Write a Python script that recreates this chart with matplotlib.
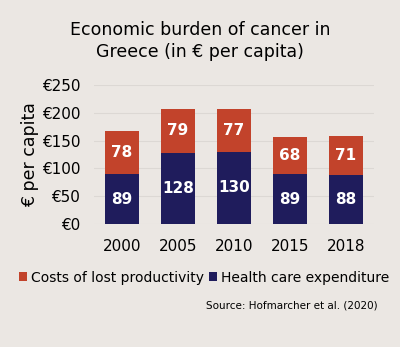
import matplotlib
matplotlib.use("Agg")
import matplotlib.pyplot as plt
import numpy as np

years = ["2000", "2005", "2010", "2015", "2018"]
health = [89, 128, 130, 89, 88]
lost = [78, 79, 77, 68, 71]
yticks = [0, 50, 100, 150, 200, 250]
ytick_labels = ["€0", "€50", "€100", "€150", "€200", "€250"]

bg = "#ebe7e3"
navy = "#1f1c5c"
red = "#c2432b"

fig = plt.figure(figsize=(4, 3.47), dpi=100, facecolor=bg)
ax = fig.add_axes([0.235, 0.355, 0.70, 0.40], facecolor=bg)

x = np.arange(len(years))
w = 0.6
b1 = ax.bar(x, health, w, color=navy, label="Health care expenditure", zorder=3)
b2 = ax.bar(x, lost, w, bottom=health, color=red, label="Costs of lost productivity", zorder=3)

for i in range(len(years)):
    ax.text(x[i], health[i] / 2, str(health[i]), ha="center", va="center",
            color="white", fontsize=11, fontweight="bold", zorder=4)
    ax.text(x[i], health[i] + lost[i] / 2, str(lost[i]), ha="center", va="center",
            color="white", fontsize=11, fontweight="bold", zorder=4)

ax.set_ylim(0, 250)
ax.set_xlim(-0.5, len(years) - 0.5)
ax.set_yticks(yticks)
ax.set_yticklabels(ytick_labels, fontsize=11)
ax.set_xticks(x)
ax.set_xticklabels(years, fontsize=11)
ax.tick_params(axis="y", length=0, pad=10)
ax.tick_params(axis="x", length=0, pad=11)
ax.grid(axis="y", color="#dcd8d4", linewidth=0.8, zorder=0)
for s in ax.spines.values():
    s.set_visible(False)
ax.set_ylabel("€ per capita", fontsize=12.5, labelpad=2)

fig.text(0.5, 0.882, "Economic burden of cancer in\nGreece (in € per capita)",
         ha="center", va="center", fontsize=12.5, linespacing=1.3)

handles = [b2, b1]
leg = fig.legend(handles, [h.get_label() for h in handles], loc="center",
                 bbox_to_anchor=(0.51, 0.2), ncol=2, frameon=False, fontsize=10,
                 handlelength=0.6, handleheight=0.6, handletextpad=0.25, columnspacing=0.4)

fig.text(0.945, 0.12, "Source: Hofmarcher et al. (2020)", ha="right", va="center", fontsize=7.5)

fig.savefig("out.png", dpi=100, facecolor=bg)
